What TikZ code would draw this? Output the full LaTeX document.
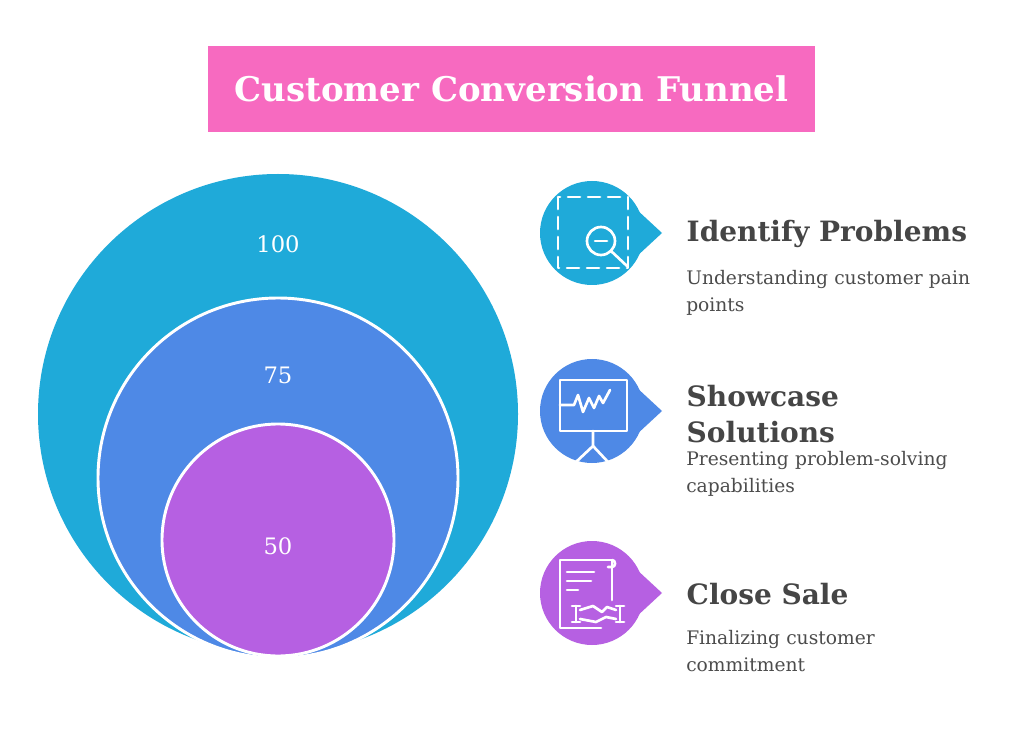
\documentclass[tikz,border=0pt]{standalone}
\usepackage{fontspec}
\setmainfont{DejaVu Serif}
\hyphenpenalty=10000 \exhyphenpenalty=10000
\begin{document}
\begin{tikzpicture}[x=0.75pt,y=-0.75pt,
  ic/.style={draw=white,line width=2pt,line cap=round,line join=round},
  head/.style={anchor=west,text=black!73,font=\bfseries\fontsize{21}{27}\selectfont,align=left},
  desc/.style={anchor=north west,text=black!70,font=\fontsize{14}{20}\selectfont,align=left,text width=226pt,inner sep=0pt},
  num/.style={text=white,font=\fontsize{17}{18}\selectfont}]
\definecolor{cA}{HTML}{1FAAD9}\definecolor{cB}{HTML}{4E89E6}\definecolor{cC}{HTML}{B660E2}\definecolor{pk}{HTML}{F76AC0}
\useasboundingbox (0,0) rectangle (1024,755);
\fill[white] (0,0) rectangle (1024,755);
\node[fill=pk,minimum width=455pt,minimum height=64.5pt,text=white,font=\bfseries\fontsize{25.5}{28}\selectfont] (title) at (511.5,89) {Customer Conversion Funnel};
\fill[cA] (278,414) circle (240);
\draw[fill=cB,draw=white,line width=2.2pt] (278,478) circle (180);
\draw[fill=cC,draw=white,line width=2.2pt] (278,540) circle (116);
\node[num] (n1) at (278,244) {100};
\node[num] (n2) at (278,375) {75};
\node[num] (n3) at (278,546) {50};
% icon bubbles
\foreach \y/\c in {233/cA,411/cB,593/cC}{
  \fill[\c] (592,\y) circle (52);
  \fill[\c] (635,\y-25) -- (662,\y) -- (635,\y+25) -- cycle;
}
% icon 1
\draw[ic,dash pattern=on 9pt off 6pt] (558,197) rectangle (628,268);
\draw[ic] (601,241) circle (14);
\draw[ic] (595,241) -- (607,241);
\draw[ic] (611,251) -- (627,266);
% icon 2
\draw[ic] (560,380) rectangle (627,431);
\draw[ic] (560,405) -- (574,405) -- (578,395) -- (583,412) -- (589,398) -- (594,408) -- (599,396) -- (603,403) -- (610,390);
\draw[ic] (593,431) -- (593,446) -- (576,462);
\draw[ic] (593,446) -- (608,462);
% icon 3
\draw[ic] (601,628) -- (560,628) -- (560,560) -- (612,560) -- (612,600);
\draw[ic] (612,560) .. controls (616,560) and (616,567) .. (612,567) -- (608,567);
\draw[ic] (567,572) -- (594,572);
\draw[ic] (567,581) -- (591,581);
\draw[ic] (567,590) -- (578,590);
\draw[ic] (576,606) -- (576,622); \draw[ic] (572,606) -- (580,606); \draw[ic] (572,622) -- (580,622);
\draw[ic] (620,606) -- (620,622); \draw[ic] (616,606) -- (624,606); \draw[ic] (616,622) -- (624,622);
\draw[ic] (580,610) -- (593,606) -- (602,612) -- (607,607) -- (616,610);
\draw[ic] (580,619) -- (596,622) -- (606,617) -- (616,619);
% texts
\node[head] (h1) at (682,234) {Identify Problems};
\node[desc] (d1) at (686,270) {Understanding customer pain points};
\node[head] (h2) at (682,414) {Showcase\\Solutions};
\node[desc] (d2) at (686,451) {Presenting problem-solving capabilities};
\node[head] (h3) at (682,594) {Close Sale};
\node[desc] (d3) at (686,630) {Finalizing customer commitment};
\end{tikzpicture}
\end{document}
